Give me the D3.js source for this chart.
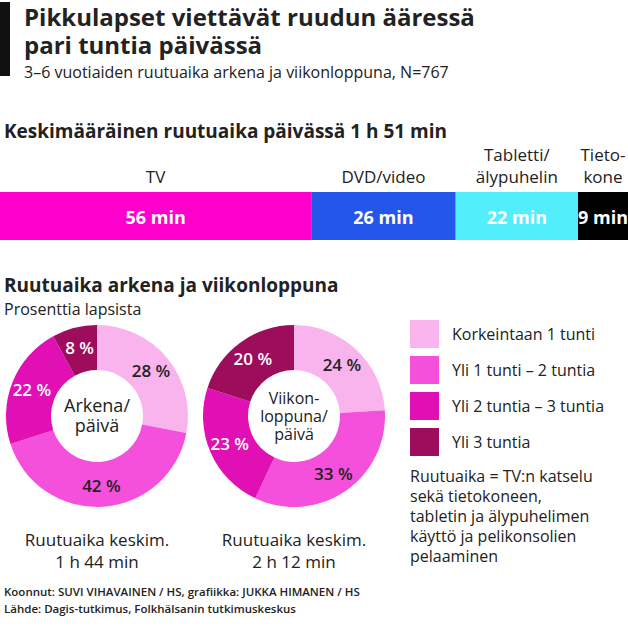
<!DOCTYPE html>
<html><head><meta charset="utf-8">
<script src="https://cdn.jsdelivr.net/npm/d3@7"></script>
<style>body{margin:0;background:#fff}svg{font-family:"Open Sans",sans-serif}</style>
</head><body>
<script>
const barCats=["TV","DVD/video","Tabletti/|älypuhelin","Tieto-|kone"];
const barVals=[56,26,22,9];
const barColors=["#ff00cc","#2456ea","#52eefc","#000000"];
const groups=["Korkeintaan 1 tunti","Yli 1 tunti – 2 tuntia","Yli 2 tuntia – 3 tuntia","Yli 3 tuntia"];
const arkena=[28,42,22,8];
const viikonloppu=[24,33,23,20];
const pieColors=["#f9b4ee","#f550dc","#e010b4","#9e0c5c"];
const pieLabelColors=["#222","#222","#fff","#fff"];

const W=628,H=626;
const svg=d3.select("body").append("svg").attr("width",W).attr("height",H);
svg.append("rect").attr("x",0).attr("y",2).attr("width",10).attr("height",74).attr("fill","#111");
const t=(x,y,s,txt,o={})=>svg.append("text").attr("x",x).attr("y",y).attr("font-size",s).attr("font-weight",o.w||400).attr("fill",o.f||"#222").attr("text-anchor",o.a||"start").text(txt);
t(24,26,24,"Pikkulapset viettävät ruudun ääressä",{w:700});
t(24,54,24,"pari tuntia päivässä",{w:700});
t(24,78,16,"3–6 vuotiaiden ruutuaika arkena ja viikonloppuna, N=767");
t(4,138,19,"Keskimääräinen ruutuaika päivässä 1 h 51 min",{w:700});

const x=d3.scaleLinear().domain([0,d3.sum(barVals)]).range([0,W]);
let acc=0;
barVals.forEach((v,i)=>{
  const x0=x(acc),x1=x(acc+v);acc+=v;
  svg.append("rect").attr("x",x0).attr("y",192).attr("width",x1-x0).attr("height",48).attr("fill",barColors[i]);
  t((x0+x1)/2,224,18,v+" min",{w:700,f:"#fff",a:"middle"});
  const lines=barCats[i].split("|");
  lines.forEach((l,j)=>t((x0+x1)/2,183-(lines.length-1-j)*22,17,l,{a:"middle"}));
});

t(4,292,19,"Ruutuaika arkena ja viikonloppuna",{w:700});
t(4,315,16,"Prosenttia lapsista");

function donut(cx,cy,data,center,cap){
  const g=svg.append("g").attr("transform",`translate(${cx},${cy})`);
  const arcs=d3.pie().sort(null)(data);
  const arc=d3.arc().innerRadius(46).outerRadius(91);
  const la=d3.arc().innerRadius(70).outerRadius(70);
  g.selectAll("path").data(arcs).join("path").attr("d",arc).attr("fill",(d,i)=>pieColors[i]);
  g.selectAll("text.l").data(arcs).join("text").attr("class","l")
    .attr("transform",d=>`translate(${la.centroid(d)})`).attr("dy","0.35em").attr("text-anchor","middle")
    .attr("font-size",17).attr("font-weight",600).attr("fill",(d,i)=>pieLabelColors[i]).text(d=>d.data+" %");
  const n=center.length;
  center.forEach((c,j)=>g.append("text").attr("text-anchor","middle").attr("font-size",n>2?16:18).attr("fill","#222")
    .attr("y",(j-(n-1)/2)*(n>2?18:20)+6).text(c));
  cap.forEach((c,j)=>t(cx,546+j*22,17,c,{a:"middle"}));
}
donut(97,416,arkena,["Arkena/","päivä"],["Ruutuaika keskim.","1 h 44 min"]);
donut(294,416,viikonloppu,["Viikon-","loppuna/","päivä"],["Ruutuaika keskim.","2 h 12 min"]);

groups.forEach((gname,i)=>{
  const y=320+i*36;
  svg.append("rect").attr("x",410).attr("y",y).attr("width",29).attr("height",28).attr("fill",pieColors[i]);
  t(452,y+20,16,gname);
});
["Ruutuaika = TV:n katselu","sekä tietokoneen,","tabletin ja älypuhelimen","käyttö ja pelikonsolien","pelaaminen"].forEach((l,j)=>t(410,482+j*20,16,l));
t(4,596,11.5,"Koonnut: SUVI VIHAVAINEN / HS, grafiikka: JUKKA HIMANEN / HS",{w:600});
t(4,613,11.5,"Lähde: Dagis-tutkimus, Folkhälsanin tutkimuskeskus",{w:600});
</script>
</body></html>
